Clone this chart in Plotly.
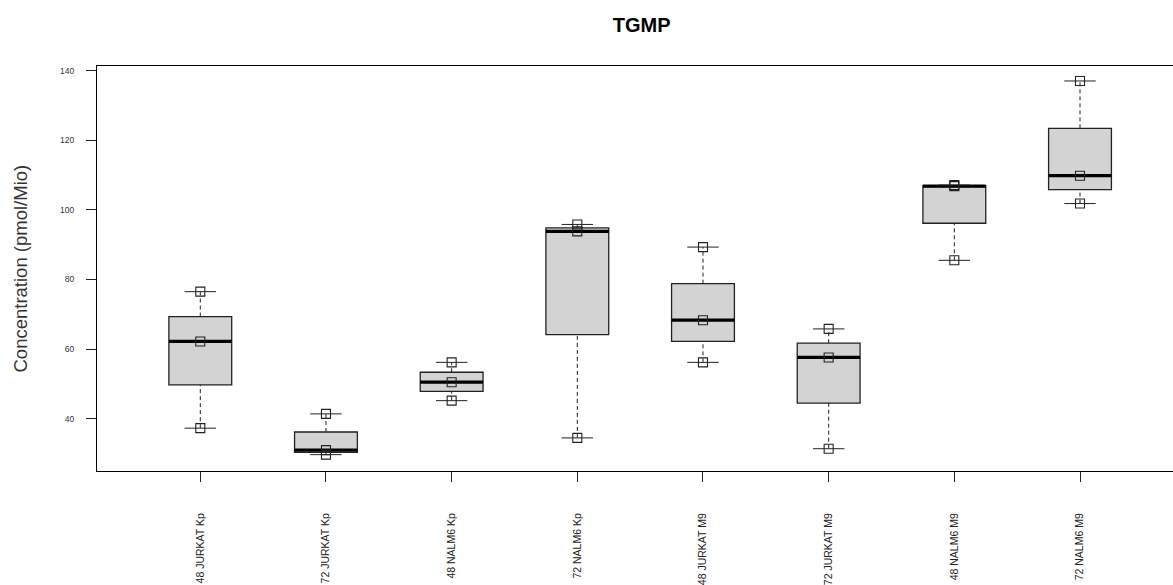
import numpy as np
import plotly.graph_objects as go

groups = ["48 JURKAT Kp", "72 JURKAT Kp", "48 NALM6 Kp", "72 NALM6 Kp",
          "48 JURKAT M9", "72 JURKAT M9", "48 NALM6 M9", "72 NALM6 M9"]
jurkat48_kp = [37.3, 62.2, 76.5]
jurkat72_kp = [29.7, 31.0, 41.4]
nalm48_kp = [45.2, 50.5, 56.2]
nalm72_kp = [34.5, 93.8, 95.8]
jurkat48_m9 = [56.2, 68.3, 89.3]
jurkat72_m9 = [31.4, 57.6, 65.8]
nalm48_m9 = [85.5, 106.8, 107.1]
nalm72_m9 = [101.8, 109.8, 137.0]
series = [jurkat48_kp, jurkat72_kp, nalm48_kp, nalm72_kp,
          jurkat48_m9, jurkat72_m9, nalm48_m9, nalm72_m9]
y_ticks = [40, 60, 80, 100, 120, 140]


def fivenum(v):
    x = np.sort(np.asarray(v, dtype=float))
    n = len(x)
    n4 = np.floor((n + 3) / 2) / 2
    d = np.array([1, n4, (n + 1) / 2, n + 1 - n4, n]) - 1
    return 0.5 * (x[np.floor(d).astype(int)] + x[np.ceil(d).astype(int)])


pos = list(range(1, len(groups) + 1))
stats = [fivenum(v) for v in series]
mins = [s[0] for s in stats]
q1 = [s[1] for s in stats]
med = [s[2] for s in stats]
q3 = [s[3] for s in stats]
maxs = [s[4] for s in stats]

BOXW = 0.5
CAPW = BOXW / 2

fig = go.Figure()

# dashed whiskers
wx, wy = [], []
for p, lo, a, b, hi in zip(pos, mins, q1, q3, maxs):
    wx += [p, p, None, p, p, None]
    wy += [lo, a, None, b, hi, None]
fig.add_trace(go.Scatter(x=wx, y=wy, mode="lines",
                         line=dict(color="#222222", width=1, dash="4px,3px"),
                         hoverinfo="skip", showlegend=False))

# boxes
fig.add_trace(go.Box(x=pos, q1=q1, median=med, q3=q3, lowerfence=q1, upperfence=q3,
                     width=BOXW, fillcolor="#D3D3D3",
                     line=dict(color="#222222", width=1.3),
                     hoverinfo="skip", showlegend=False, boxpoints=False))

# thick medians
mx, my = [], []
for p, m in zip(pos, med):
    mx += [p - BOXW / 2, p + BOXW / 2, None]
    my += [m, m, None]
fig.add_trace(go.Scatter(x=mx, y=my, mode="lines",
                         line=dict(color="#000000", width=3.2),
                         hoverinfo="skip", showlegend=False))

# whisker caps
cx, cy = [], []
for p, lo, hi in zip(pos, mins, maxs):
    cx += [p - CAPW / 2, p + CAPW / 2, None, p - CAPW / 2, p + CAPW / 2, None]
    cy += [lo, lo, None, hi, hi, None]
fig.add_trace(go.Scatter(x=cx, y=cy, mode="lines",
                         line=dict(color="#222222", width=1),
                         hoverinfo="skip", showlegend=False))

# data points
px, py = [], []
for p, v in zip(pos, series):
    px += [p] * len(v)
    py += list(v)
fig.add_trace(go.Scatter(x=px, y=py, mode="markers",
                         marker=dict(symbol="square-open", size=9, color="#222222",
                                     line=dict(width=1.1)),
                         hoverinfo="skip", showlegend=False))

fig.update_layout(
    width=1173, height=585,
    margin=dict(l=97, r=0, t=66, b=112),
    paper_bgcolor="white", plot_bgcolor="white",
    font=dict(family="Liberation Sans, Arial, sans-serif", color="#222222"),
    title=dict(text="<b>TGMP</b>", x=641.7 / 1173, xanchor="center", xref="container",
               y=1 - 24.5 / 585, yanchor="middle", yref="container",
               font=dict(size=20, color="#000000")),
    xaxis=dict(range=[0.178, 8.74], tickmode="array", tickvals=pos, ticktext=groups,
               tickangle=-90, ticks="outside", ticklen=10, tickcolor="#222222",
               showline=True, linecolor="#000000", linewidth=1, mirror=True,
               showgrid=False, zeroline=False, ticklabelstandoff=27,
               tickfont=dict(size=10.5, color="#222222")),
    yaxis=dict(range=[25.0, 141.3], tickmode="array", tickvals=y_ticks,
               ticks="outside", ticklen=10, tickcolor="#222222",
               showline=True, linecolor="#000000", linewidth=1, mirror=False,
               showgrid=False, zeroline=False, ticklabelstandoff=10,
               tickfont=dict(size=8.5, color="#333344")),
    annotations=[dict(text="Concentration (pmol/Mio)", textangle=-90,
                      xref="paper", yref="paper", x=(20 - 97) / 1076, y=0.5,
                      xanchor="center", yanchor="middle", showarrow=False,
                      font=dict(size=18.5, color="#333333"))],
)

fig.write_html("out.html")
